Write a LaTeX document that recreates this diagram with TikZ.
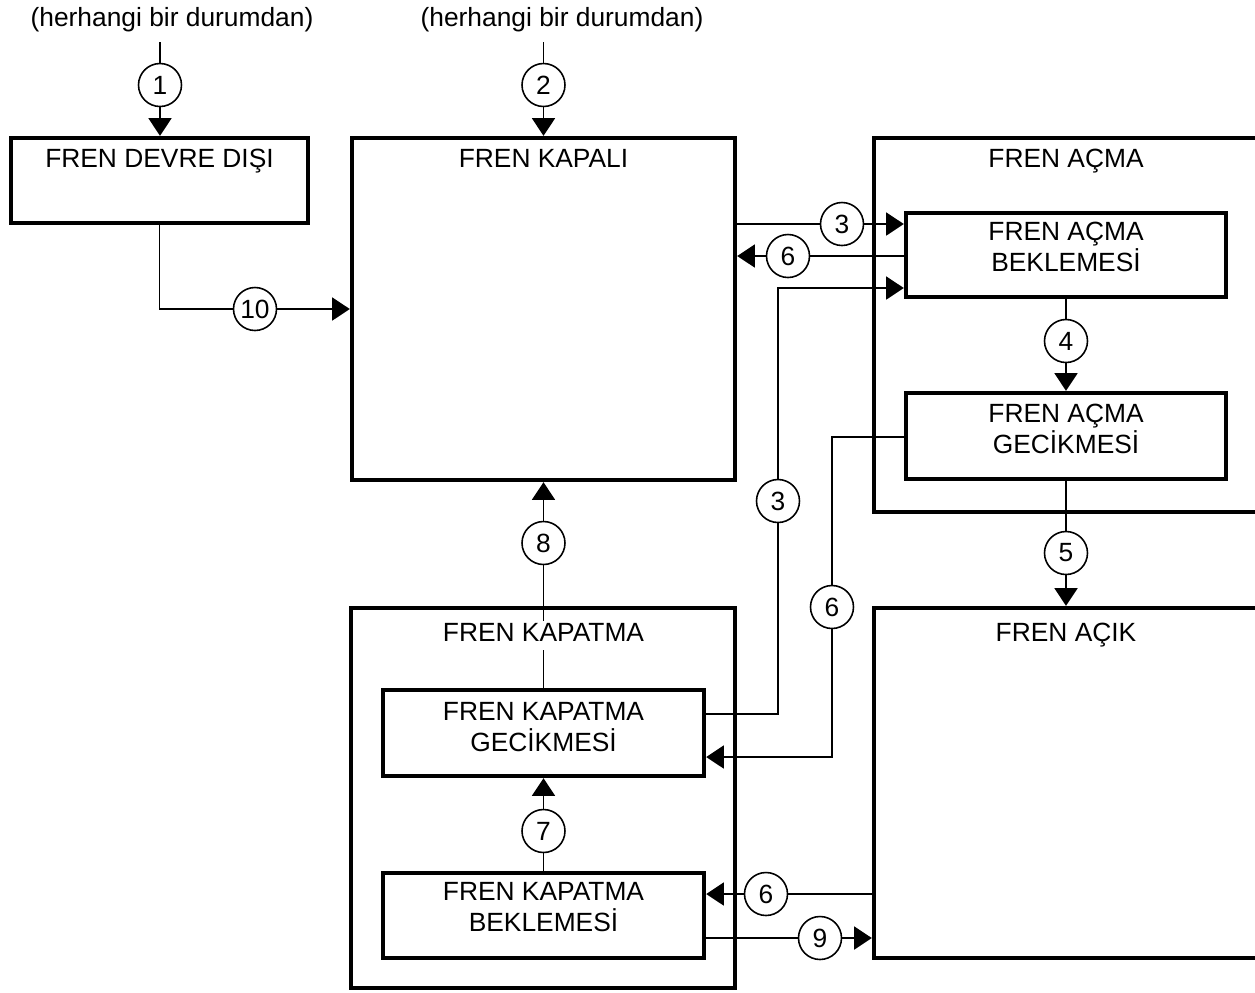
\documentclass[tikz,border=0pt]{standalone}
\usepackage{fontspec}
\setmainfont{Liberation Sans}
\usepackage{tikz}
\usetikzlibrary{arrows.meta,positioning,calc}
\tikzset{
  box/.style 2 args={draw,line width=2.5pt,inner sep=0pt,minimum width=#1*0.02cm,minimum height=#2*0.02cm},
  ttl/.style={anchor=base,align=center,fill=white,inner sep=1pt,text depth=4pt,font=\fontsize{15}{17.1}\selectfont},
  num/.style={circle,draw,fill=white,line width=0.9pt,minimum size=0.86cm,inner sep=0pt,font=\fontsize{15}{17}\selectfont},
  ln/.style={line width=1.1pt},
  arr/.style={ln,-{Triangle[length=10pt,width=13pt]}},
}
\begin{document}
\begin{tikzpicture}[x=0.02cm,y=-0.02cm]
  \useasboundingbox (0,0) rectangle (1255,992);
  \clip (0,0) rectangle (1255,992);
  % states
  \node[box={297}{85}]  (devre)   at (159.5,180.5) {};
  \node[box={383}{342}] (kapali)  at (543.5,309) {};
  \node[box={426}{374}] (acma)    at (1087,325) {};
  \node[box={320}{84}]  (acbek)   at (1066,255) {};
  \node[box={320}{86}]  (acgec)   at (1066,436) {};
  \node[box={426}{350}] (acik)    at (1087,783) {};
  \node[box={384}{380}] (kapatma) at (543,798) {};
  \node[box={321}{86}]  (kpgec)   at (543.5,733) {};
  \node[box={321}{85}]  (kpbek)   at (543.5,915.5) {};
  % transition numbers
  \node[num] (n1)  at (160,85) {1};
  \node[num] (n2)  at (543.5,85) {2};
  \node[num] (n10) at (255,309) {10};
  \node[num] (n3a) at (842,224) {3};
  \node[num] (n6a) at (788,256) {6};
  \node[num] (n3b) at (778,501) {3};
  \node[num] (n4)  at (1066,341) {4};
  \node[num] (n6b) at (832,607) {6};
  \node[num] (n5)  at (1066,553) {5};
  \node[num] (n8)  at (543.5,543) {8};
  \node[num] (n7)  at (543.5,831) {7};
  \node[num] (n6c) at (766,894) {6};
  \node[num] (n9)  at (820,938) {9};
  \coordinate (s1) at (160,42);
  \coordinate (s2) at (543.5,42);
  \coordinate (c3)  at (778,714);
  \coordinate (c3t) at (778,288);
  \coordinate (c6t) at (832,437);
  \coordinate (c6b) at (832,757);
  % connectors
  \draw[ln] (s1) -- (n1);  \draw[arr] (n1) -- (n1 |- devre.north);
  \draw[ln] (s2) -- (n2);  \draw[arr] (n2) -- (kapali);
  \draw[ln] (devre.south) |- (n10);  \draw[arr] (n10) -- (n10 -| kapali.west);
  \draw[ln] (n3a -| kapali.east) -- (n3a);  \draw[arr] (n3a) -- (n3a -| acbek.west);
  \draw[ln] (n6a -| acbek.west) -- (n6a);  \draw[arr] (n6a) -- (n6a -| kapali.east);
  \draw[ln] (c3 -| kpgec.east) -- (c3) -- (n3b);  \draw[arr] (n3b) -- (c3t) -- (c3t -| acbek.west);
  \draw[ln] (acbek) -- (n4);  \draw[arr] (n4) -- (acgec);
  \draw[ln] (c6t -| acgec.west) -- (c6t) -- (n6b);  \draw[arr] (n6b) -- (c6b) -- (c6b -| kpgec.east);
  \draw[ln] (acgec) -- (n5);  \draw[arr] (n5) -- (n5 |- acik.north);
  \draw[ln] (kpgec) -- (n8);  \draw[arr] (n8) -- (kapali);
  \draw[ln] (kpbek) -- (n7);  \draw[arr] (n7) -- (kpgec);
  \draw[ln] (n6c -| acik.west) -- (n6c);  \draw[arr] (n6c) -- (n6c -| kpbek.east);
  \draw[ln] (n9 -| kpbek.east) -- (n9);  \draw[arr] (n9) -- (n9 -| acik.west);
  % titles (base = last line)
  \node[ttl] (h1) at (172,26) {(herhangi bir durumdan)};
  \node[ttl] (h2) at (562,26) {(herhangi bir durumdan)};
  \node[ttl] (tdevre)   at (159.5,167) {FREN DEVRE DIŞI};
  \node[ttl] (tkapali)  at (543.5,167) {FREN KAPALI};
  \node[ttl] (tacma)    at (1066,167) {FREN AÇMA};
  \node[ttl] (tacbek)   at (1066,271) {FREN AÇMA\\BEKLEMESİ};
  \node[ttl] (tacgec)   at (1066,453) {FREN AÇMA\\GECİKMESİ};
  \node[ttl] (tacik)    at (1066,641) {FREN AÇIK};
  \node[ttl] (tkapatma) at (543.5,641) {FREN KAPATMA};
  \node[ttl] (tkpgec)   at (543.5,751) {FREN KAPATMA\\GECİKMESİ};
  \node[ttl] (tkpbek)   at (543.5,931) {FREN KAPATMA\\BEKLEMESİ};
\end{tikzpicture}
\end{document}
